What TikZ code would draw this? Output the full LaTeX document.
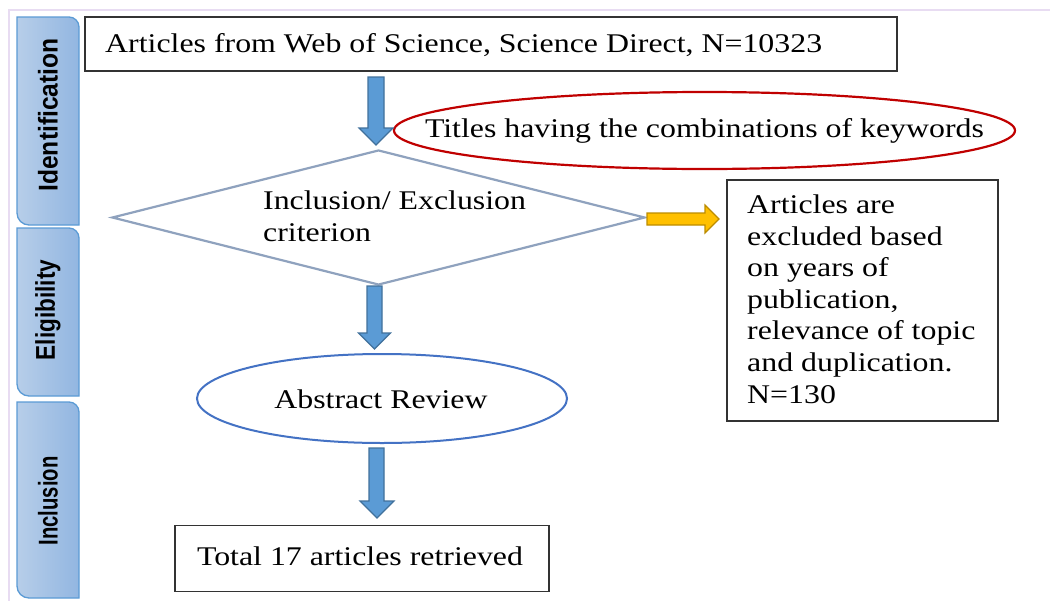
\documentclass[tikz,border=0pt]{standalone}
\usepackage{fontspec}
\usepackage{graphicx}
\setmainfont{Liberation Serif}
\setsansfont{Liberation Sans}
\usetikzlibrary{shapes.geometric}
\definecolor{frameLav}{HTML}{E8DCF2}
\definecolor{tabL}{HTML}{B7CEE9}
\definecolor{tabR}{HTML}{92B6E1}
\definecolor{tabB}{HTML}{5B9BD5}
\definecolor{diaC}{HTML}{8FA2BE}
\definecolor{redC}{HTML}{C00000}
\definecolor{blueE}{HTML}{4472C4}
\definecolor{arrF}{HTML}{5B9BD5}
\definecolor{arrB}{HTML}{41719C}
\definecolor{yelF}{HTML}{FFC000}
\definecolor{yelB}{HTML}{BC8C00}
\newcommand\sx[1]{\scalebox{1.18}[1]{#1}}
\newcommand\tabtxt[2]{\scalebox{#1}[1.18]{#2}}
\begin{document}
\begin{tikzpicture}[x=1pt,y=-1pt,
  txt/.style={font=\fontsize{27}{31.6}\selectfont, inner sep=0pt},
  tabshape/.style={draw=tabB, line width=1.3pt, left color=tabL, right color=tabR},
  tablabel/.style={font=\sffamily\bfseries\fontsize{23}{26}\selectfont, rotate=90, inner sep=0pt},
  boxst/.style={draw=black!80, line width=1.2pt, inner sep=0pt},
  bluearr/.style={fill=arrF, draw=arrB, line width=1.2pt, line join=miter},
  yelarr/.style={fill=yelF, draw=yelB, line width=1.2pt, line join=miter}]
\useasboundingbox (0,0) rectangle (1050,600);
\fill[white] (0,0) rectangle (1050,600);
% outer frame
\draw[frameLav, line width=2pt] (8.5,620) -- (8.5,9.5) -- (1060,9.5);
% phase tabs
\draw[tabshape] (17,17) -- (69,17) arc[start angle=-90,end angle=0,radius=10] -- (79,225) -- (29,225) arc[start angle=90,end angle=180,radius=12] -- cycle;
\draw[tabshape] (17,228) -- (69,228) arc[start angle=-90,end angle=0,radius=10] -- (79,396) -- (29,396) arc[start angle=90,end angle=180,radius=12] -- cycle;
\draw[tabshape] (17,402) -- (69,402) arc[start angle=-90,end angle=0,radius=10] -- (79,598) -- (29,598) arc[start angle=90,end angle=180,radius=12] -- cycle;
\node[tablabel] (t1) at (48,115) {\tabtxt{1.07}{Identification}};
\node[tablabel] (t2) at (48,310) {\tabtxt{0.98}{Eligibility}};
\node[tablabel] (t3) at (48,501) {\tabtxt{0.88}{Inclusion}};
% boxes and shapes
\node[boxst, minimum width=812, minimum height=54] (src) at (491,44) {};
\node[txt, anchor=west] (srct) at (105,45) {\sx{Articles from Web of Science, Science Direct, N=10323}};
\node[draw=redC, line width=2.2pt, ellipse, minimum width=621, minimum height=77, inner sep=0pt] (kw) at (704.5,130.5) {};
\node[txt] (kwt) at (704.5,131) {\sx{Titles having the combinations of keywords}};
\node[draw=diaC, line width=2.2pt, diamond, minimum width=533, minimum height=135, inner sep=0pt] (crit) at (378.5,217.5) {};
\node[txt, anchor=west, align=left] (critt) at (263,219) {\sx{\begin{tabular}{@{}l@{}}Inclusion/ Exclusion\\criterion\end{tabular}}};
\node[boxst, minimum width=271, minimum height=241] (excl) at (862.5,300.5) {};
\node[txt, anchor=west] (exclt) at (747,302) {\sx{\begin{tabular}{@{}l@{}}Articles are\\excluded based\\on years of\\publication,\\relevance of topic\\and duplication.\\N=130\end{tabular}}};
\node[draw=blueE, line width=2pt, ellipse, minimum width=370, minimum height=89, inner sep=0pt] (abs) at (382,398.5) {};
\node[txt] (abst) at (381,399) {\sx{Abstract Review}};
\node[boxst, minimum width=374, minimum height=66] (tot) at (362,558.5) {};
\node[txt] (tott) at (360,556) {\sx{Total 17 articles retrieved}};
% block arrows
\draw[bluearr] (368,77) -- (384,77) -- (384,128) -- (393,128) -- (376,145) -- (359,128) -- (368,128) -- cycle;
\draw[bluearr] (367,286) -- (382,286) -- (382,333) -- (390.5,333) -- (374.5,349) -- (358.5,333) -- (367,333) -- cycle;
\draw[bluearr] (369,448) -- (384,448) -- (384,501) -- (394,501) -- (377,518) -- (360,501) -- (369,501) -- cycle;
\draw[yelarr] (647,213) -- (705,213) -- (705,205) -- (719,219) -- (705,233) -- (705,225) -- (647,225) -- cycle;
\end{tikzpicture}
\end{document}
